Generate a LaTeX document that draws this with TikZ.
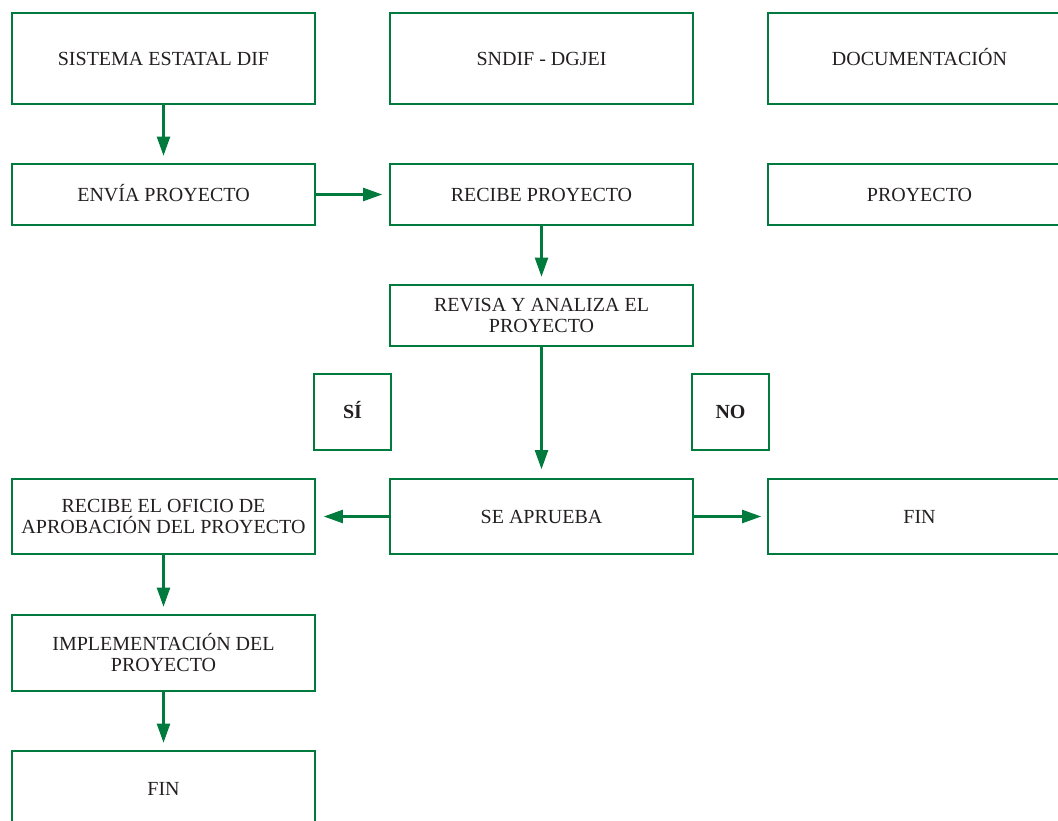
\documentclass[tikz,border=0pt]{standalone}
\usepackage{fontspec}
\setmainfont{Liberation Serif}
\usetikzlibrary{arrows.meta}
\definecolor{dgreen}{RGB}{0,122,61}
\definecolor{txt}{RGB}{35,31,32}
\begin{document}
\begin{tikzpicture}[x=1pt,y=-1pt,
  box/.style={draw=dgreen,line width=1.6pt,minimum width=303pt,inner sep=0pt,
    text=txt,align=center,font=\fontsize{20}{21}\selectfont},
  one/.style={text height=13.2pt,text depth=0pt},
  smallbox/.style={box,one,minimum width=77pt,minimum height=76pt,font=\fontsize{20}{21}\selectfont\bfseries},
  flow/.style={draw=dgreen,line width=2.2pt,-{Triangle[length=19pt,width=13pt]},dgreen}]
\useasboundingbox (0,0) rectangle (1058,821);
\clip (0,0) rectangle (1058,821);
% row 1
\node[box,one,minimum height=91pt] (sed) at (163.5,58.5) {SISTEMA ESTATAL DIF};
\node[box,one,minimum height=91pt] (sndif) at (541.5,58.5) {SNDIF - DGJEI};
\node[box,one,minimum height=91pt] (doc) at (919.5,58.5) {DOCUMENTACIÓN};
% row 2
\node[box,one,minimum height=61pt] (envia) at (163.5,194.5) {ENVÍA PROYECTO};
\node[box,one,minimum height=61pt] (recibe) at (541.5,194.5) {RECIBE PROYECTO};
\node[box,one,minimum height=61pt] (proy) at (919.5,194.5) {PROYECTO};
% revisa
\node[box,minimum height=61pt] (revisa) at (541.5,315.5) {REVISA Y ANALIZA EL\\PROYECTO};
% si / no
\node[smallbox] (si) at (352.5,412) {SÍ};
\node[smallbox] (no) at (730.5,412) {NO};
% decision row
\node[box,minimum height=75pt] (oficio) at (163.5,516.5) {RECIBE EL OFICIO DE\\APROBACIÓN DEL PROYECTO};
\node[box,one,minimum height=75pt] (aprueba) at (541.5,516.5) {SE APRUEBA};
\node[box,one,minimum height=75pt] (fin1) at (919.5,516.5) {FIN};
% bottom
\node[box,minimum height=76pt] (impl) at (163.5,653) {IMPLEMENTACIÓN DEL\\PROYECTO};
\node[box,one,minimum height=75pt] (fin2) at (163.5,788.5) {FIN};
% arrows
\draw[flow,shorten >=7.5pt] (sed.south) -- (envia.north);
\draw[flow,shorten >=7pt] (envia.east) -- (recibe.west);
\draw[flow,shorten >=7.5pt] (recibe.south) -- (revisa.north);
\draw[flow,shorten >=9pt] (revisa.south) -- (aprueba.north);
\draw[flow,shorten >=8pt] (aprueba.west) -- (oficio.east);
\draw[flow,shorten >=6pt] (aprueba.east) -- (fin1.west);
\draw[flow,shorten >=7.5pt] (oficio.south) -- (impl.north);
\draw[flow,shorten >=7.5pt] (impl.south) -- (fin2.north);
\end{tikzpicture}
\end{document}
